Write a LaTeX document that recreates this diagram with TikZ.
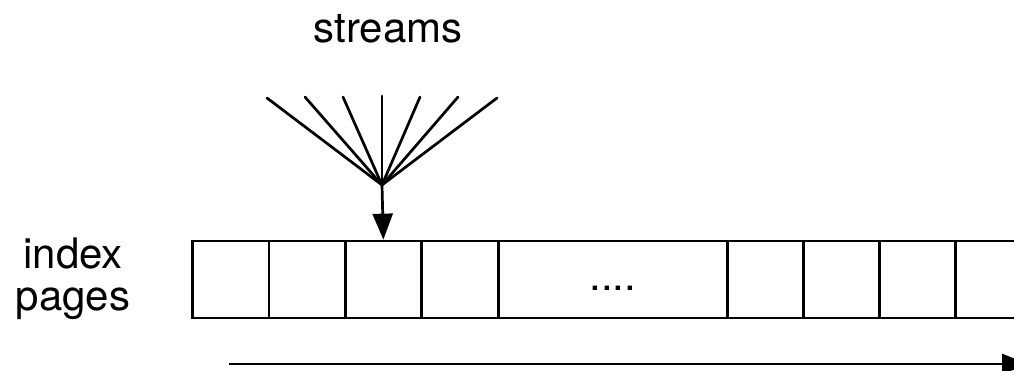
\documentclass[tikz,border=0pt]{standalone}
\usepackage{fontspec}
\setmainfont{TeX Gyre Heros}
\usetikzlibrary{arrows.meta}
\begin{document}
\begin{tikzpicture}[x=1pt,y=-1pt,
  every node/.style={font=\fontsize{42}{42}\selectfont},
  cell/.style={draw,line width=2.7pt,inner sep=0pt,minimum height=77pt,anchor=west},
  feed/.style={line width=2.7pt,line cap=round},
  tip/.style={-{Triangle[length=26pt,width=20pt]},line width=2.7pt}]
\useasboundingbox (0,0) rectangle (1014,370);
\clip (0,0) rectangle (1014,370);

% labels
\node[anchor=base] (streams) at (388,42) {streams};
\node[anchor=base,align=center,font=\fontsize{42}{42}\selectfont] (label) at (73,310) {index\\pages};

% row of index pages
\node[cell,minimum width=76.5pt] (c1) at (191,279.5) {};
\node[cell,minimum width=76.5pt] (c2) at (267.5,279.5) {};
\node[cell,minimum width=76pt]   (c3) at (344,279.5) {};
\node[cell,minimum width=77pt]   (c4) at (420,279.5) {};
\node[cell,minimum width=229pt,text height=30pt,text depth=9pt] (c5) at (497,279.5) {....};
\node[cell,minimum width=76pt]   (c6) at (726,279.5) {};
\node[cell,minimum width=76pt]   (c7) at (802,279.5) {};
\node[cell,minimum width=76pt]   (c8) at (878,279.5) {};
\node[cell,minimum width=77pt]   (c9) at (954,279.5) {};

% incoming streams fan into one point
\coordinate (hub) at (382,185);
\foreach \i/\x/\y in {1/267/98,2/305/97,3/343/97,4/382/96,5/420/97,6/458/97,7/497/98}
  \coordinate (s\i) at (\x,\y);
\foreach \i in {1,...,7}
  \draw[feed] (s\i) -- (hub);
\draw[tip] (hub) -- (c3.north);

% direction of growth
\coordinate (t0) at (229,364);
\coordinate (t1) at (1028,364);
\draw[tip] (t0) -- (t1);
\end{tikzpicture}
\end{document}
